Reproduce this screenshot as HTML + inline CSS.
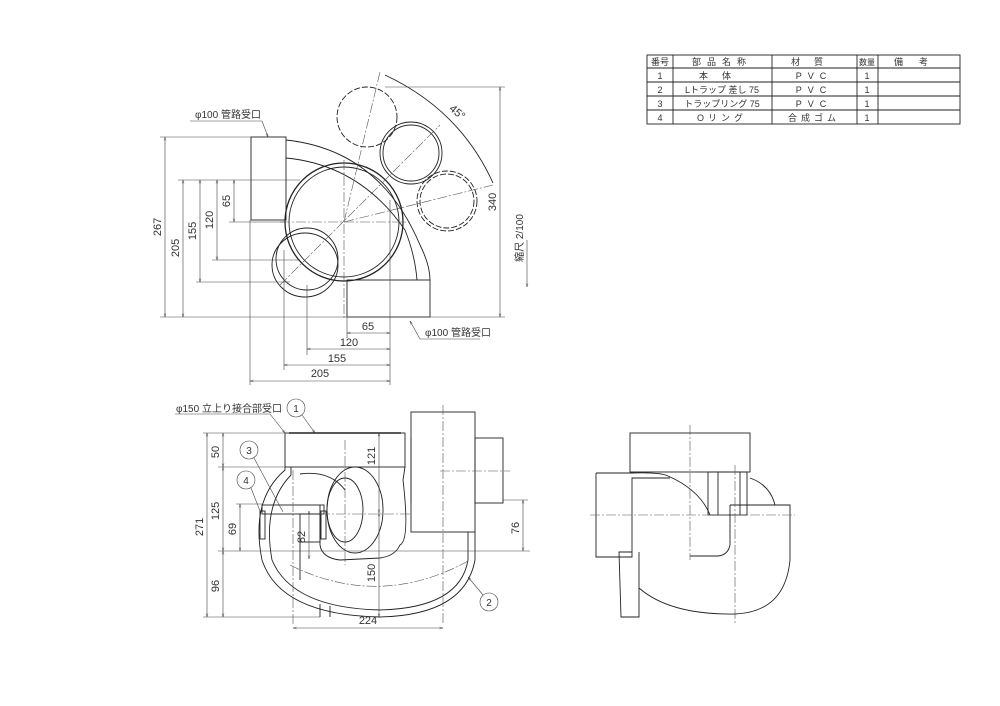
<!DOCTYPE html>
<html><head><meta charset="utf-8"><style>
html,body{margin:0;padding:0;background:#fff;}
svg{display:block;font-family:"Liberation Sans","Noto Sans CJK JP",sans-serif;}
</style></head><body>
<svg width="1000" height="706" viewBox="0 0 1000 706" xmlns="http://www.w3.org/2000/svg">
<defs><marker id="a" viewBox="0 0 10 10" refX="10" refY="5" markerWidth="6" markerHeight="6" orient="auto-start-reverse"><path d="M0,2 L10,5 L0,8" fill="none" stroke="#333" stroke-width="1"/></marker></defs>
<g stroke="#222" fill="none" stroke-width="0.9">
<!-- table -->
<rect x="647" y="55" width="313" height="69"/>
<line x1="647" y1="68" x2="960" y2="68"/><line x1="647" y1="82" x2="960" y2="82"/><line x1="647" y1="96" x2="960" y2="96"/><line x1="647" y1="110" x2="960" y2="110"/>
<line x1="673" y1="55" x2="673" y2="124"/><line x1="772" y1="55" x2="772" y2="124"/><line x1="857" y1="55" x2="857" y2="124"/><line x1="878" y1="55" x2="878" y2="124"/>
</g>
<g font-size="9" fill="#333" text-anchor="middle">
<text x="660" y="65">番号</text><text x="722" y="65" letter-spacing="6">部品名称</text><text x="814" y="65" letter-spacing="14">材質</text><text x="867" y="65" font-size="8">数量</text><text x="919" y="65" letter-spacing="16">備考</text>
<text x="660" y="79">1</text><text x="722" y="79" letter-spacing="14">本体</text><text x="814" y="79" letter-spacing="6">PVC</text><text x="867" y="79">1</text>
<text x="660" y="93">2</text><text x="722" y="93">Lトラップ 差し 75</text><text x="814" y="93" letter-spacing="6">PVC</text><text x="867" y="93">1</text>
<text x="660" y="107">3</text><text x="722" y="107">トラップリング 75</text><text x="814" y="107" letter-spacing="6">PVC</text><text x="867" y="107">1</text>
<text x="660" y="121">4</text><text x="722" y="121" letter-spacing="4">Oリング</text><text x="814" y="121" letter-spacing="4">合成ゴム</text><text x="867" y="121">1</text>
</g>

<!-- TOP VIEW -->
<g stroke="#222" fill="none" stroke-width="0.9">
<rect x="251" y="137" width="35" height="83"/>
<path d="M286,140 Q380,150 420,245 Q430,265 430,280"/>
<path d="M286,158 Q360,165 405,230 Q415,255 417,280"/>
<rect x="347" y="280" width="83" height="37"/>
<circle cx="344" cy="222" r="59" stroke-width="1.3"/>
<circle cx="344" cy="222" r="55"/>
<circle cx="307" cy="259" r="31"/>
<ellipse cx="305" cy="265" rx="33" ry="32"/>
<circle cx="411" cy="153" r="31"/><circle cx="411" cy="153" r="28"/>
<g stroke-dasharray="6,2"><circle cx="367" cy="117" r="30"/><circle cx="447" cy="201" r="30"/><circle cx="447" cy="201" r="27"/></g>
<path d="M385,75 Q460,110 493,183"/>
<g stroke="#555" stroke-width="0.6" stroke-dasharray="10,2,2,2">
<line x1="280" y1="285" x2="440" y2="125"/><line x1="344" y1="222" x2="380" y2="72"/><line x1="344" y1="222" x2="493" y2="185"/>
<line x1="280" y1="222" x2="410" y2="222"/><line x1="344" y1="160" x2="344" y2="320"/>
</g>
</g>
<g stroke="#444" fill="none" stroke-width="0.6">
<line x1="160" y1="137" x2="251" y2="137"/><line x1="178" y1="180" x2="300" y2="180"/><line x1="196" y1="282" x2="290" y2="282"/><line x1="212" y1="260" x2="300" y2="260"/><line x1="229" y1="222" x2="286" y2="222"/><line x1="160" y1="317" x2="505" y2="317"/>
<line x1="165" y1="137" x2="165" y2="317" marker-start="url(#a)" marker-end="url(#a)"/>
<line x1="183" y1="180" x2="183" y2="317" marker-start="url(#a)" marker-end="url(#a)"/>
<line x1="200" y1="180" x2="200" y2="282" marker-start="url(#a)" marker-end="url(#a)"/>
<line x1="217" y1="180" x2="217" y2="260" marker-start="url(#a)" marker-end="url(#a)"/>
<line x1="234" y1="180" x2="234" y2="222" marker-start="url(#a)" marker-end="url(#a)"/>
<line x1="390" y1="200" x2="390" y2="385"/><line x1="347" y1="317" x2="347" y2="338"/><line x1="307" y1="285" x2="307" y2="355"/><line x1="284" y1="250" x2="284" y2="370"/><line x1="250" y1="220" x2="250" y2="385"/>
<line x1="347" y1="333" x2="390" y2="333" marker-start="url(#a)" marker-end="url(#a)"/>
<line x1="307" y1="349" x2="390" y2="349" marker-start="url(#a)" marker-end="url(#a)"/>
<line x1="284" y1="365" x2="390" y2="365" marker-start="url(#a)" marker-end="url(#a)"/>
<line x1="250" y1="381" x2="390" y2="381" marker-start="url(#a)" marker-end="url(#a)"/>
<line x1="500" y1="87" x2="500" y2="317" marker-start="url(#a)" marker-end="url(#a)"/>
<line x1="385" y1="87" x2="505" y2="87"/>
<path d="M190,121 L262,121 L268,137" marker-end="url(#a)"/>
<path d="M480,339 L420,339 L410,321" marker-end="url(#a)"/>
<line x1="527" y1="240" x2="527" y2="287" marker-end="url(#a)"/>
</g>
<g font-size="11" fill="#333" text-anchor="middle">
<text x="195" y="118" text-anchor="start" font-size="10">φ100 管路受口</text>
<text x="425" y="336" text-anchor="start" font-size="10">φ100 管路受口</text>
<text transform="translate(161,227) rotate(-90)">267</text>
<text transform="translate(179,248) rotate(-90)">205</text>
<text transform="translate(196,231) rotate(-90)">155</text>
<text transform="translate(213,220) rotate(-90)">120</text>
<text transform="translate(230,201) rotate(-90)">65</text>
<text transform="translate(496,202) rotate(-90)">340</text>
<text transform="translate(523,238) rotate(-90)" font-size="10">縮尺 2/100</text>
<text x="368" y="330">65</text><text x="349" y="346">120</text><text x="337" y="362">155</text><text x="320" y="377">205</text>
<text transform="translate(455,115) rotate(40)">45°</text>
</g>

<!-- FRONT VIEW -->
<g stroke="#222" fill="none" stroke-width="0.9">
<rect x="285" y="433" width="120" height="34"/>
<line x1="289" y1="433" x2="401" y2="433" stroke-width="1.5"/>
<path d="M285,467 L285,470 Q250,500 262,560 Q280,615 380,617 Q465,615 475,560 L475,532"/>
<path d="M291,467 L291,475 Q262,505 272,560 Q292,608 380,610 Q460,608 468,560 L468,532"/>
<path d="M405,467 L403,480 Q410,540 400,545 Q395,556 380,558 L340,560 Q322,558 320,545 L320,505"/>
<path d="M300,474 Q330,470 345,490"/>
<ellipse cx="355" cy="510" rx="28" ry="43"/>
<ellipse cx="345" cy="510" rx="18" ry="32"/>
<rect x="411" y="412" width="64" height="120"/>
<line x1="411" y1="438" x2="411" y2="503"/>
<rect x="475" y="438" width="28" height="65"/>
<rect x="262" y="505" width="62" height="9"/>
<rect x="300" y="514" width="20" height="28"/>
<rect x="260" y="511" width="5" height="28"/><rect x="321" y="511" width="5" height="28"/>
<line x1="300" y1="540" x2="300" y2="580"/>
<path d="M320,604 L320,617 M330,606 L330,617"/>
</g>
<g stroke="#555" stroke-width="0.6" fill="none" stroke-dasharray="10,2,2,2">
<line x1="443" y1="405" x2="443" y2="625"/><line x1="293" y1="470" x2="293" y2="625"/><line x1="345" y1="440" x2="345" y2="565"/>
<line x1="440" y1="471" x2="510" y2="471"/><line x1="320" y1="514" x2="410" y2="514"/>
<path d="M290,565 Q380,610 470,560"/>
</g>
<g stroke="#444" stroke-width="0.6" fill="none">
<line x1="203" y1="433" x2="289" y2="433"/><line x1="218" y1="467" x2="285" y2="467"/><line x1="218" y1="551" x2="530" y2="551"/><line x1="203" y1="617" x2="320" y2="617"/><line x1="236" y1="504" x2="262" y2="504"/>
<line x1="207" y1="433" x2="207" y2="617" marker-start="url(#a)" marker-end="url(#a)"/>
<line x1="223" y1="433" x2="223" y2="467" marker-start="url(#a)" marker-end="url(#a)"/>
<line x1="223" y1="467" x2="223" y2="551" marker-start="url(#a)" marker-end="url(#a)"/>
<line x1="223" y1="551" x2="223" y2="617" marker-start="url(#a)" marker-end="url(#a)"/>
<line x1="240" y1="504" x2="240" y2="551" marker-start="url(#a)" marker-end="url(#a)"/>
<line x1="309" y1="511" x2="309" y2="559" marker-start="url(#a)" marker-end="url(#a)"/>
<line x1="379" y1="433" x2="379" y2="513" marker-start="url(#a)" marker-end="url(#a)"/>
<line x1="379" y1="513" x2="379" y2="617" marker-start="url(#a)" marker-end="url(#a)"/>
<line x1="523" y1="500" x2="523" y2="551" marker-start="url(#a)" marker-end="url(#a)"/>
<line x1="503" y1="500" x2="528" y2="500"/>
<line x1="293" y1="628" x2="443" y2="628" marker-start="url(#a)" marker-end="url(#a)"/>
<path d="M175,414 L270,414 L285,433" marker-end="url(#a)"/>
<circle cx="296" cy="408" r="9"/><line x1="302" y1="415" x2="315" y2="433" marker-end="url(#a)"/>
<circle cx="249" cy="450" r="9"/><line x1="254" y1="458" x2="283" y2="512"/>
<circle cx="246" cy="480" r="9"/><line x1="251" y1="488" x2="260" y2="511"/>
<circle cx="489" cy="602" r="9"/><line x1="483" y1="595" x2="468" y2="577" marker-end="url(#a)"/>
</g>
<g font-size="11" fill="#333" text-anchor="middle">
<text x="176" y="412" text-anchor="start" font-size="10">φ150 立上り接合部受口</text>
<text x="296" y="412" font-size="10">1</text><text x="249" y="454" font-size="10">3</text><text x="246" y="484" font-size="10">4</text><text x="489" y="606" font-size="10">2</text>
<text transform="translate(203,527) rotate(-90)">271</text>
<text transform="translate(219,452) rotate(-90)">50</text>
<text transform="translate(219,511) rotate(-90)">125</text>
<text transform="translate(219,586) rotate(-90)">96</text>
<text transform="translate(236,529) rotate(-90)">69</text>
<text transform="translate(305,537) rotate(-90)">82</text>
<text transform="translate(375,456) rotate(-90)">121</text>
<text transform="translate(375,573) rotate(-90)">150</text>
<text transform="translate(519,528) rotate(-90)">76</text>
<text x="368" y="624">224</text>
</g>

<!-- SIDE VIEW -->
<g stroke="#222" fill="none" stroke-width="0.9">
<rect x="630" y="433" width="120" height="39"/>
<path d="M596,473 L632,473 Q660,472 668,476 Q700,490 710,515"/>
<path d="M596,473 L596,557 L632,557 L632,478 L670,478"/>
<rect x="708" y="472" width="39" height="43"/>
<line x1="718" y1="472" x2="718" y2="515"/><line x1="740" y1="472" x2="740" y2="515"/>
<path d="M750,478 Q770,485 775,505"/>
<path d="M730,505 L790,505 L790,560 Q785,612 735,614 Q670,615 639,588"/>
<path d="M730,505 L730,545 Q728,555 718,556 L690,556"/>
<path d="M632,552 L619,552 L621,617 L639,617 L639,552"/>
</g>
<g stroke="#555" stroke-width="0.6" fill="none" stroke-dasharray="10,2,2,2">
<line x1="690" y1="425" x2="690" y2="560"/><line x1="590" y1="515" x2="795" y2="515"/><line x1="735" y1="465" x2="735" y2="625"/>
</g>
</svg>
</body></html>
